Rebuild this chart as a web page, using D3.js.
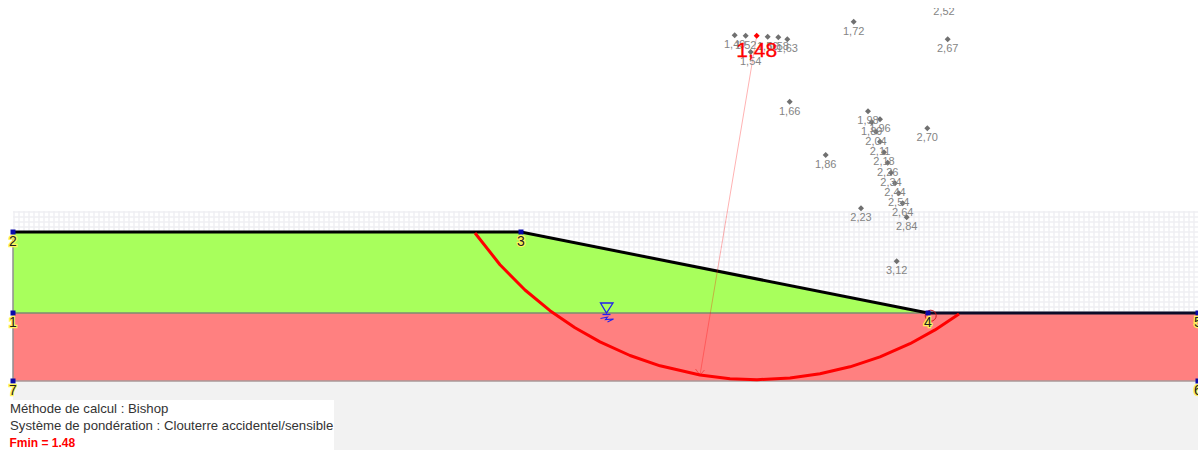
<!DOCTYPE html>
<html>
<head>
<meta charset="utf-8">
<script src="https://cdn.jsdelivr.net/npm/d3@7"></script>
<style>
html,body{margin:0;padding:0;background:#fff;overflow:hidden}
svg{display:block}
text{font-family:"Liberation Sans",Arial,sans-serif}
</style>
</head>
<body>
<svg id="c" width="1198" height="450"></svg>
<script>
// Model units
const groundLine = [[0,14.9],[50.8,14.9],[91.5,6.8],[118.5,6.8]];
const upperLayer = [[0,14.9],[50.8,14.9],[91.5,6.8],[0,6.8]];
const lowerLayer = [[0,6.8],[118.5,6.8],[118.5,0],[0,0]];
const gridZone = [[0,17],[118.5,17],[118.5,0],[0,0]];
const belowZone = [[0,0],[118.5,0],[118.5,-6.9],[0,-6.9]];
const slipCurve = [[46.2,14.8],[48.7,11.63],[51.2,9.1],[53.7,7.03],[56.2,5.32],[58.7,3.91],[61.7,2.55],[64.7,1.52],[68.7,0.6],[71.7,0.23],[74.4,0.13],[77.7,0.29],[80.7,0.72],[83.7,1.42],[86.7,2.42],[89.7,3.73],[92.2,5.11],[94.6,6.71]];
const nodeIds = ["2","3","4","5","1","7","6"];
const nodeX = [0,50.8,91.5,118.5,0,0,118.5];
const nodeY = [14.9,14.9,6.8,6.8,6.8,0,0];
const factorLabels = ["1,49","1,52","1,56","1,58","1,63","1,54","1,72","2,67","2,52","1,66","1,98","1,96","1,89","2,04","2,11","2,18","2,26","2,34","2,44","2,54","2,64","2,84","2,70","1,86","2,23","3,12"];
const factorX = [72.17,73.27,75.47,76.53,77.43,73.77,84.07,93.47,93.1,77.67,85.5,86.7,85.87,86.3,86.7,87.1,87.47,87.8,88.2,88.57,88.97,89.37,91.43,81.27,84.8,88.37];
const factorY = [34.57,34.53,34.43,34.37,34.17,32.9,35.93,34.17,37.95,27.93,26.97,26.17,25.88,24.93,23.93,22.87,21.83,20.83,19.77,18.77,17.77,16.37,25.27,22.6,17.27,11.97];
const minCentre = [74.37,34.53];
const minFoot = [68.7,0.6];
const minLabel = "1,48";
const waterX = 59.35, waterY = 6.8;
const legendLines = ["Méthode de calcul : Bishop","Système de pondération : Clouterre accidentel/sensible","Fmin = 1.48"];

const svg = d3.select("#c");
const x = d3.scaleLinear().domain([0,118.5]).range([13,1198]);
const y = d3.scaleLinear().domain([0,38.1]).range([381,0]);
const line = d3.line().x(d=>x(d[0])).y(d=>y(d[1]));
const closed = pts => line(pts)+"Z";

const defs = svg.append("defs");
const pat = defs.append("pattern").attr("id","grid").attr("patternUnits","userSpaceOnUse")
  .attr("width",5).attr("height",5).attr("x",13).attr("y",211);
pat.append("path").attr("d","M0 1H5M1 0V5").attr("stroke","#f0f0f3").attr("stroke-width",1.5).attr("fill","none");
defs.append("clipPath").attr("id","top").append("rect").attr("x",0).attr("y",8).attr("width",1198).attr("height",442);

const plot = svg.append("g").attr("clip-path","url(#top)");
plot.append("path").attr("d",closed(belowZone)).attr("fill","#f2f2f2");
plot.append("path").attr("d",closed(gridZone)).attr("fill","#fff");
plot.append("path").attr("d",closed([[0,17],[118.5,17],[118.5,6.8],[0,6.8]])).attr("fill","url(#grid)");
plot.append("path").attr("d",closed(upperLayer)).attr("fill","#a8ff5c");
plot.append("path").attr("d",closed(lowerLayer)).attr("fill","#ff8080");

// layer borders
plot.append("path").attr("d",line([[0,14.9],[0,0]])).attr("stroke","#8f8f8f").attr("stroke-width",1.5).attr("fill","none");
plot.append("path").attr("d",line([[0,6.8],[91.5,6.8]])).attr("stroke","#7f8a72").attr("stroke-width",1.5).attr("fill","none");
plot.append("path").attr("d",line([[0,0],[118.5,0]])).attr("stroke","#a89898").attr("stroke-width",1.5).attr("fill","none");

// ground surface
plot.append("path").attr("d",line(groundLine.slice(0,3))).attr("stroke","#000").attr("stroke-width",3).attr("fill","none");
plot.append("path").attr("d",line(groundLine.slice(2))).attr("stroke","#0c0c28").attr("stroke-width",3).attr("fill","none");

// radius to the critical circle
plot.append("path").attr("d",line([minCentre,minFoot])).attr("stroke","#f00").attr("stroke-opacity",.3).attr("stroke-width",1).attr("fill","none");
const fx=x(minFoot[0]), fy=y(minFoot[1]);
plot.append("path").attr("d",`M${fx-4.5} ${fy-6}L${fx} ${fy}L${fx+4.5} ${fy-5}`).attr("stroke","#f03030").attr("stroke-opacity",.7).attr("stroke-width",1).attr("fill","none");

// critical slip circle
plot.append("path").attr("d",line(slipCurve)).attr("stroke","#f00").attr("stroke-width",3).attr("fill","none").attr("stroke-linejoin","round");

// circle at node 4
plot.append("circle").attr("cx",x(91.77)).attr("cy",y(6.53)).attr("r",5.5).attr("fill","none").attr("stroke","#d01818").attr("stroke-width",1);

// water table symbol
const wx=x(waterX), wy=y(waterY), blue="#2222ee";
const water = plot.append("g").attr("fill","none").attr("stroke",blue);
water.append("path").attr("d",`M${wx-6} ${wy-10}H${wx+6.5}L${wx} ${wy}Z`).attr("stroke-width",1.3);
water.append("path").attr("d",`M${wx-4} ${wy+1.5}H${wx+4}`).attr("stroke-width",1.3);
water.append("path").attr("d",`M${wx-6} ${wy+5.5}L${wx+1} ${wy+4}L${wx-1} ${wy+6.5}L${wx+7} ${wy+6}L${wx+1} ${wy+9}`).attr("stroke-width",1.1);

// nodes
const nodes = nodeIds.map((id,i)=>({id,x:nodeX[i],y:nodeY[i]}));
plot.selectAll("rect.node").data(nodes).join("rect").attr("class","node")
  .attr("x",d=>x(d.x)-2.5).attr("y",d=>y(d.y)-2.5).attr("width",5).attr("height",5).attr("fill","#0a0aa8");
plot.selectAll("text.nid").data(nodes).join("text").attr("class","nid")
  .attr("x",d=>x(d.x)).attr("y",d=>y(d.y)+14).attr("text-anchor","middle")
  .attr("font-size",14).attr("fill","#222").attr("stroke","#fff35a").attr("stroke-width",2.4)
  .attr("paint-order","stroke").text(d=>d.id);

// safety factors
const fac = factorLabels.map((t,i)=>({t,x:factorX[i],y:factorY[i]}));
plot.selectAll("path.f").data(fac).join("path").attr("class","f")
  .attr("d",d3.symbol().type(d3.symbolSquare).size(18))
  .attr("transform",d=>`translate(${x(d.x)},${y(d.y)}) rotate(45)`).attr("fill","#707070");
plot.selectAll("text.f").data(fac).join("text").attr("class","f")
  .attr("x",d=>x(d.x)).attr("y",d=>y(d.y)+13).attr("text-anchor","middle")
  .attr("font-size",11).attr("fill","#848484").text(d=>d.t);

// minimum
plot.append("path").attr("d",d3.symbol().type(d3.symbolSquare).size(18))
  .attr("transform",`translate(${x(minCentre[0])},${y(minCentre[1])}) rotate(45)`).attr("fill","#f00");
plot.append("text").attr("x",x(minCentre[0])).attr("y",y(minCentre[1])+21).attr("text-anchor","middle")
  .attr("font-size",21).attr("fill","#f00").attr("stroke","#f00").attr("stroke-width",.3).text(minLabel);

// legend
svg.append("rect").attr("x",0).attr("y",400).attr("width",334).attr("height",50).attr("fill","#fff");
svg.selectAll("text.leg").data(legendLines).join("text").attr("class","leg")
  .attr("x",(d,i)=>i<2?10:9.5).attr("y",(d,i)=>413+i*17)
  .attr("font-size",(d,i)=>i==2?12:13.2).attr("font-weight",(d,i)=>i==2?"bold":"normal")
  .attr("fill",(d,i)=>i==2?"#f00":"#333").text(d=>d);
</script>
</body>
</html>
